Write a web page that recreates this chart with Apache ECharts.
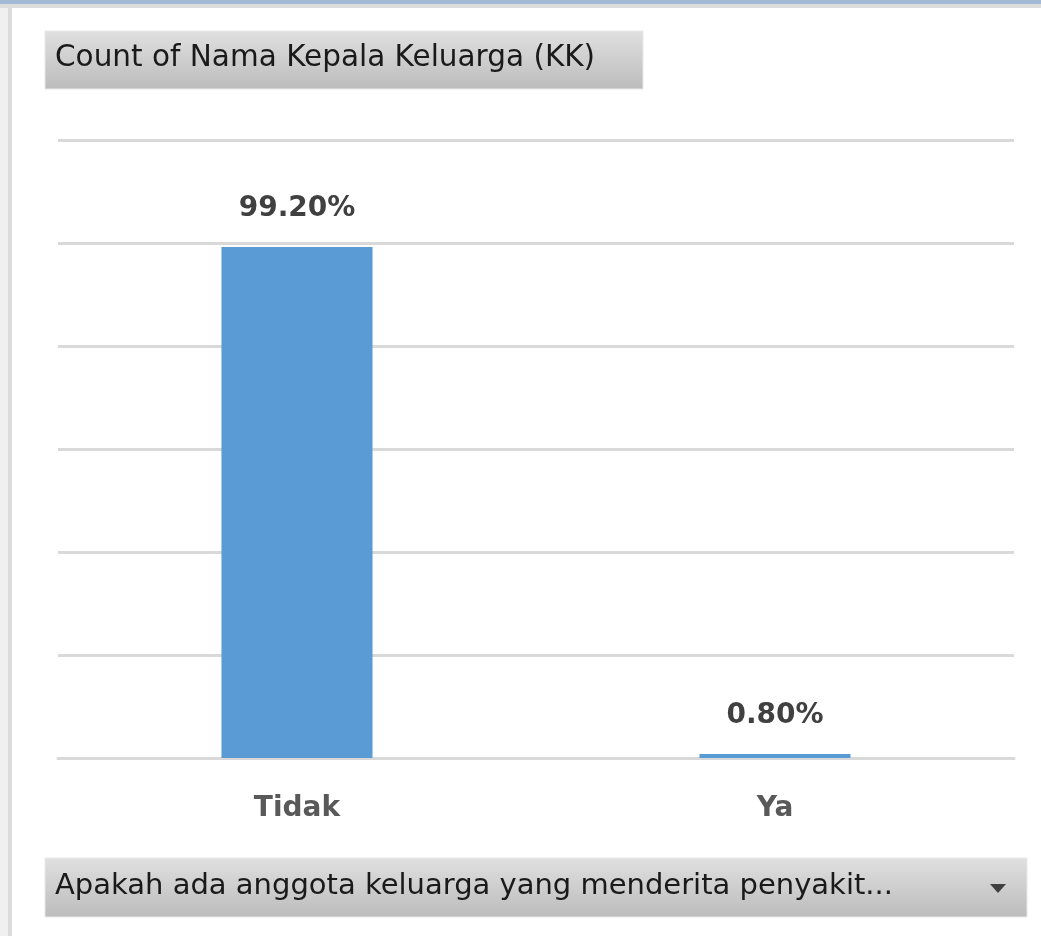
<!DOCTYPE html>
<html>
<head>
<meta charset="utf-8">
<script src="https://cdn.jsdelivr.net/npm/echarts@6/dist/echarts.min.js"></script>
<style>
html,body{margin:0;padding:0;background:#fff;}
#chart{width:1041px;height:936px;}
</style>
</head>
<body>
<div id="chart"></div>
<script>
const categories = ['Tidak', 'Ya'];
const percentValues = [99.2, 0.8];
const titleText = 'Count of Nama Kepala Keluarga (KK)';
const filterText = 'Apakah ada anggota keluarga yang menderita penyakit...';
const yMax = 120;
const yInterval = 20;

const chart = echarts.init(document.getElementById('chart'));
const FONT = '"DejaVu Sans", sans-serif';

chart.setOption({
  backgroundColor: '#ffffff',
  animation: false,
  grid: { left: 58, width: 956, top: 140, height: 618, containLabel: false },
  xAxis: {
    type: 'category',
    data: categories,
    axisTick: { show: false },
    axisLine: { show: true, lineStyle: { color: '#d9d9d9', width: 3 } },
    axisLabel: { color: '#595959', fontSize: 28, fontWeight: 'bold', fontFamily: FONT, margin: 37 }
  },
  yAxis: {
    type: 'value',
    min: 0, max: yMax, interval: yInterval,
    axisLabel: { show: false },
    axisLine: { show: false },
    axisTick: { show: false },
    splitLine: { show: true, lineStyle: { color: '#d9d9d9', width: 3 } }
  },
  series: [{
    type: 'bar',
    data: percentValues,
    barWidth: '31.6%',
    itemStyle: { color: '#5b9bd5' },
    label: {
      show: true,
      position: 'top',
      distance: 24,
      color: '#404040',
      fontSize: 28,
      fontWeight: 'bold',
      fontFamily: FONT,
      formatter: p => p.value.toFixed(2) + '%'
    }
  }],
  graphic: [
    { type: 'rect', z: -1, shape: { x: 0, y: 0, width: 1041, height: 4 }, style: { fill: '#a2b9d6' } },
    { type: 'rect', z: -1, shape: { x: 0, y: 4, width: 1041, height: 4 }, style: { fill: '#dcdcdc' } },
    { type: 'rect', z: -1, shape: { x: 0, y: 8, width: 8, height: 928 }, style: { fill: '#f0f0f0' } },
    { type: 'rect', z: -1, shape: { x: 8, y: 8, width: 4, height: 928 }, style: { fill: '#dcdcdc' } },
    {
      type: 'rect', shape: { x: 45, y: 31, width: 598, height: 58 },
      style: {
        fill: new echarts.graphic.LinearGradient(0, 0, 0, 1, [
          { offset: 0, color: '#e0e0e0' }, { offset: 1, color: '#bcbcbc' }
        ]),
        stroke: '#e8e8e8', lineWidth: 1
      }
    },
    {
      type: 'text', left: 55, top: 43,
      style: { text: titleText, fill: '#1a1a1a', font: '29.5px ' + FONT }
    },
    {
      type: 'rect', shape: { x: 45, y: 858, width: 982, height: 59 },
      style: {
        fill: new echarts.graphic.LinearGradient(0, 0, 0, 1, [
          { offset: 0, color: '#e0e0e0' }, { offset: 1, color: '#bcbcbc' }
        ]),
        stroke: '#e8e8e8', lineWidth: 1
      }
    },
    {
      type: 'text', left: 55, top: 872,
      style: { text: filterText, fill: '#1a1a1a', font: '29px ' + FONT }
    },
    {
      type: 'polygon', shape: { points: [[990, 884], [1006, 884], [998, 893]] },
      style: { fill: '#404040' }
    }
  ]
});
</script>
</body>
</html>
